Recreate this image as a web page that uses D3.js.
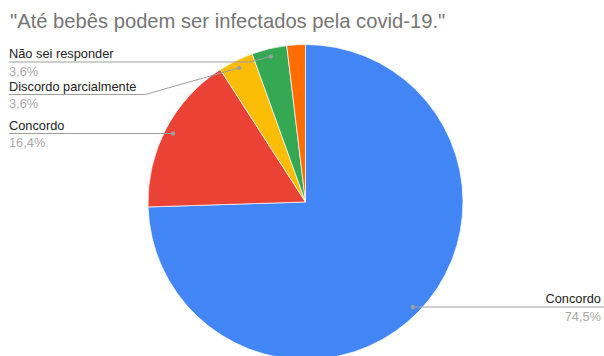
<!DOCTYPE html>
<html>
<head>
<meta charset="utf-8">
<script src="https://cdn.jsdelivr.net/npm/d3@7"></script>
<style>
  html, body { margin: 0; padding: 0; background: #fff; }
  svg { display: block; font-family: "Liberation Sans", Arial, sans-serif; }
</style>
</head>
<body>
<svg id="chart" width="604" height="356"></svg>
<script>
const title = "\"Até bebês podem ser infectados pela covid-19.\"";
const categories = ["Concordo", "Concordo", "Discordo parcialmente", "Não sei responder", ""];
const values = [74.5, 16.4, 3.6, 3.6, 1.9];
const valueLabels = ["74,5%", "16,4%", "3,6%", "3,6%", ""];
const colors = ["#4285F4", "#EA4335", "#FBBC04", "#34A853", "#FF6D01"];

// layout for labels (positions only)
const labelLayout = [
  { side: "right", lineY: 307, elbowX: null },
  { side: "left", lineY: 133.5, elbowX: null },
  { side: "left", lineY: 94.5, elbowX: 145 },
  { side: "left", lineY: 62, elbowX: 250 },
  null
];

const W = 604, H = 356;
const cx = 305.5, cy = 202, R = 157.5;
const svg = d3.select("#chart");

svg.append("text")
  .attr("x", 10).attr("y", 28)
  .attr("font-size", 20.2)
  .attr("fill", "#757575")
  .text(title);

const data = categories.map((c, i) => ({ cat: c, value: values[i], label: valueLabels[i], color: colors[i], idx: i }));
const pie = d3.pie().value(d => d.value).sort(null).startAngle(0).endAngle(2 * Math.PI);
const arcs = pie(data);
const arc = d3.arc().innerRadius(0).outerRadius(R);

const g = svg.append("g").attr("transform", `translate(${cx},${cy})`);
g.selectAll("path").data(arcs).join("path")
  .attr("d", arc)
  .attr("fill", d => d.data.color)
  .attr("stroke", "#fff")
  .attr("stroke-width", 0.7);

// leader lines and labels
arcs.forEach((a, i) => {
  const lay = labelLayout[i];
  if (!lay) return;
  const mid = (a.startAngle + a.endAngle) / 2;
  const dr = R * 0.95;
  const px = cx + dr * Math.sin(mid);
  const py = cy - dr * Math.cos(mid);
  const pts = [[px, py]];
  if (lay.side === "left") {
    if (lay.elbowX !== null) pts.push([lay.elbowX, lay.lineY]);
    else pts[0] = [px, lay.lineY];
    pts.push([9, lay.lineY]);
  } else {
    pts[0] = [px, lay.lineY];
    pts.push([W, lay.lineY]);
  }
  svg.append("path")
    .attr("d", d3.line()(pts))
    .attr("fill", "none")
    .attr("stroke", "#9e9e9e")
    .attr("stroke-width", 1);
  svg.append("circle")
    .attr("cx", pts[0][0]).attr("cy", pts[0][1])
    .attr("r", 2.2)
    .attr("fill", "#9e9e9e");

  const tx = lay.side === "left" ? 9 : 601;
  const anchor = lay.side === "left" ? "start" : "end";
  svg.append("text")
    .attr("x", tx).attr("y", lay.lineY - 4)
    .attr("text-anchor", anchor)
    .attr("font-size", 12.8)
    .attr("fill", "#222")
    .text(a.data.cat);
  svg.append("text")
    .attr("x", tx).attr("y", lay.lineY + 13.5)
    .attr("text-anchor", anchor)
    .attr("font-size", 12.8)
    .attr("fill", "#a8a8a8")
    .text(a.data.label);
});
</script>
</body>
</html>
